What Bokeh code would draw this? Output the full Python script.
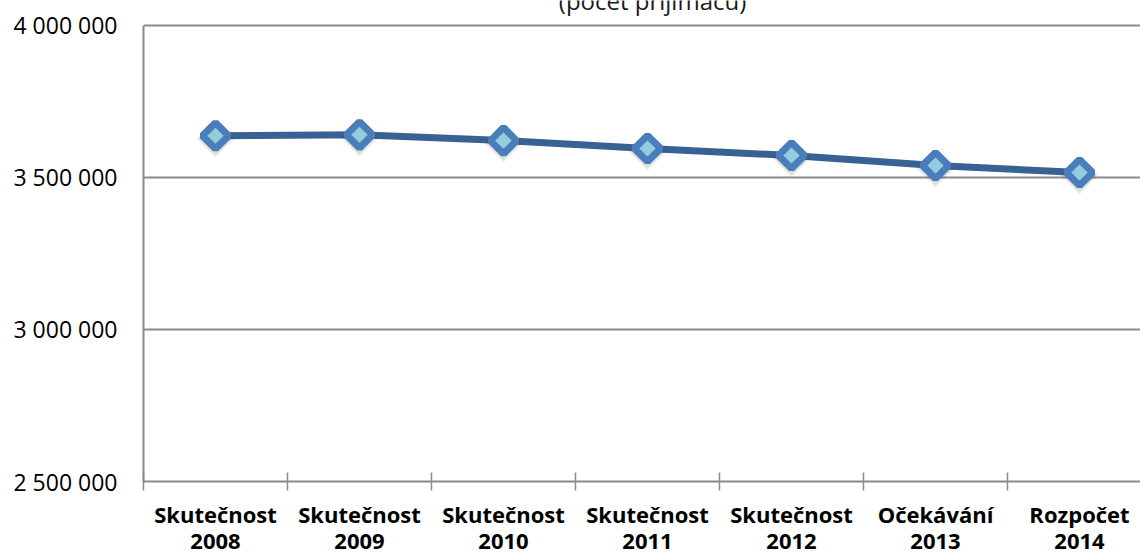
from bokeh.plotting import figure
from bokeh.models import FixedTicker, Range1d, Label, ColumnDataSource
from bokeh.embed import file_html
from bokeh.resources import INLINE
import math

# ---- data ----
categories = ["Skutečnost\n2008", "Skutečnost\n2009", "Skutečnost\n2010",
              "Skutečnost\n2011", "Skutečnost\n2012", "Očekávání\n2013",
              "Rozpočet\n2014"]
recipients = [3637000, 3640000, 3621000, 3595000, 3572000, 3539000, 3516000]
y_ticks = [2500000, 3000000, 3500000, 4000000]
y_tick_labels = ["2 500 000", "3 000 000", "3 500 000", "4 000 000"]
title_text = "(počet příjímaců)"

W, H = 1140, 558
left, bottom = 143, 74
top_px = 25                      # px between canvas top and the 4 000 000 line
cat_px = 144.0
x_end = (W - left) / cat_px
y_min, y_max = y_ticks[0], y_ticks[-1]
plot_px = H - bottom - top_px
per_px = (y_max - y_min) / plot_px
y_top = y_max + top_px * per_px

# category centres on a numeric axis (category i spans [i, i+1])
xc = [i + 0.5 for i in range(len(categories))]
src = ColumnDataSource(dict(x=xc, y=recipients,
                            y_shadow=[v - 3 * per_px for v in recipients]))

p = figure(width=W, height=H, output_backend="svg", toolbar_location=None,
           x_range=Range1d(0, x_end), y_range=Range1d(y_min, y_top),
           min_border_left=left, min_border_right=0,
           min_border_top=0, min_border_bottom=bottom)
p.outline_line_color = None
p.background_fill_color = "white"
p.border_fill_color = "white"

grey = "#8a8a8a"

# x axis
p.xaxis.ticker = FixedTicker(ticks=xc, minor_ticks=list(range(len(categories) + 1)))
p.xaxis.major_label_overrides = {v: c for v, c in zip(xc, categories)}
p.xaxis.major_tick_line_color = None
p.xaxis.major_tick_in = 0
p.xaxis.major_tick_out = 0
p.xaxis.minor_tick_line_color = grey
p.xaxis.minor_tick_line_width = 1.5
p.xaxis.minor_tick_in = 9
p.xaxis.minor_tick_out = 9
p.xaxis.axis_line_color = grey
p.xaxis.axis_line_width = 2
p.xaxis.major_label_standoff = 8
p.xaxis.major_label_text_font = "Open Sans"
p.xaxis.major_label_text_font_style = "bold"
p.xaxis.major_label_text_font_size = "22px"
p.xaxis.major_label_text_color = "black"
p.xaxis.major_label_text_line_height = 0.89
p.xgrid.grid_line_color = None

# y axis
p.yaxis.ticker = FixedTicker(ticks=y_ticks, minor_ticks=[])
p.yaxis.bounds = (y_min, y_max)
p.yaxis.major_label_overrides = {v: t for v, t in zip(y_ticks, y_tick_labels)}
p.yaxis.major_tick_line_color = None
p.yaxis.major_tick_in = 0
p.yaxis.major_tick_out = 0
p.yaxis.minor_tick_line_color = None
p.yaxis.axis_line_color = grey
p.yaxis.axis_line_width = 2
p.yaxis.major_label_standoff = 26
p.yaxis.major_label_text_font = "Open Sans"
p.yaxis.major_label_text_font_size = "23px"
p.yaxis.major_label_text_color = "black"
p.ygrid.grid_line_color = grey
p.ygrid.grid_line_width = 2

# series
p.line("x", "y", source=src, line_color="#386194", line_width=7, line_join="round")
# soft marker shadow
p.scatter("x", "y_shadow", source=src, marker="square", angle=math.pi / 4, size=27,
          fill_color="black", fill_alpha=0.06, line_color=None)
p.scatter("x", "y_shadow", source=src, marker="square", angle=math.pi / 4, size=24,
          fill_color="black", fill_alpha=0.08, line_color=None)
p.scatter("x", "y", source=src, marker="square", angle=math.pi / 4, size=18.5,
          fill_color="#93CDDD", line_color="#4A7EBB", line_width=7)

# title (cut off by the top of the canvas as in the original)
p.add_layout(Label(x=3.535, y=y_max + 24.5 * per_px, text=title_text,
                   text_align="center", text_baseline="alphabetic",
                   text_font="Open Sans", text_font_size="24px",
                   text_color="#1a1a1a"))

open("out.html", "w").write(file_html(p, INLINE))
